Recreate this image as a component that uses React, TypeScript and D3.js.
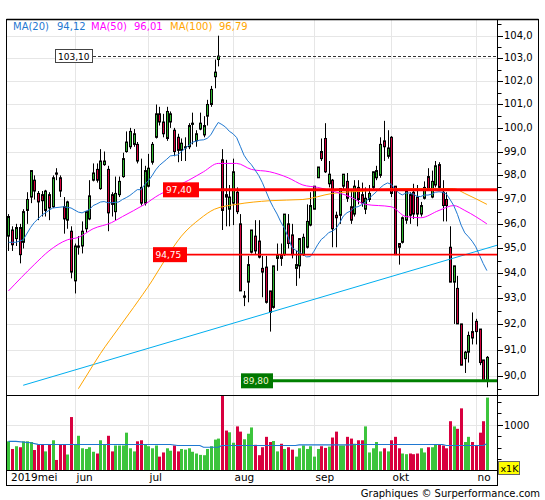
import React from "react";
import * as d3 from "d3";

// ---- data ----
const opens = [
  95.5, 95.75, 95.4, 95.85, 95.25, 96.55, 97.1, 97.8, 97.25, 97.2,
  96.55, 97.2, 96.7, 98.1, 97.9, 96.7, 96.15, 95.7, 93.7, 95.05,
  95.1, 95.8, 96.2, 97.8, 98.25, 97.45, 98.45, 98.25, 97.2, 96.5,
  97.2, 97.95, 99.0, 99.2, 99.3, 99.3, 97.5, 96.85, 97.55, 98.55,
  99.6, 100.6, 100.25, 99.55, 100.25, 99.9, 99.6, 99.05, 99.15, 99.2,
  100.15, 99.45, 99.95, 99.7, 100.5, 101.0, 102.2, 102.95, 98.65, 97.2,
  96.6, 96.85, 97.3, 96.0, 93.05, 93.65, 94.85, 95.5, 95.3, 94.2,
  94.25, 93.3, 92.65, 94.6, 94.75, 94.75, 96.0, 95.55, 94.2, 94.3,
  94.75, 95.05, 95.95, 96.6, 97.9, 99.0, 99.55, 97.65, 97.8, 96.35,
  96.35, 97.55, 97.75, 96.7, 96.4, 97.5, 97.2, 96.6, 97.0, 97.5,
  97.9, 98.0, 99.45, 98.8, 99.6, 97.55, 95.2, 95.25, 96.15, 97.2,
  97.3, 97.1, 96.4, 97.05, 97.95, 97.1, 97.6, 98.45, 97.3, 97.0,
  95.05, 93.65, 93.4, 92.0, 90.65, 90.9, 91.7, 92.1, 91.8, 90.6,
  89.8,
];
const highs = [
  96.4, 95.9, 96.0, 96.0, 96.6, 97.3, 98.2, 98.0, 97.35, 97.35,
  97.4, 97.3, 98.0, 98.3, 98.0, 97.1, 96.95, 95.9, 95.2, 95.5,
  96.1, 96.5, 97.8, 98.5, 98.5, 99.1, 99.0, 98.4, 97.3, 97.95,
  97.95, 98.95, 99.85, 100.0, 99.95, 99.4, 98.7, 98.4, 98.9, 99.4,
  101.0, 100.9, 100.6, 100.9, 100.7, 100.0, 99.75, 99.55, 99.6, 100.2,
  100.65, 99.9, 100.65, 100.5, 101.2, 101.8, 102.95, 104.0, 99.1, 98.65,
  97.6, 98.7, 97.5, 96.4, 93.3, 94.7, 95.75, 96.15, 96.15, 94.7,
  94.7, 93.3, 94.3, 95.2, 95.2, 96.4, 96.4, 96.0, 94.9, 95.4,
  95.6, 96.8, 97.3, 97.55, 98.35, 99.55, 100.2, 98.6, 97.85, 96.5,
  97.45, 98.05, 98.1, 97.4, 97.8, 97.8, 97.7, 97.5, 97.6, 98.15,
  98.4, 99.6, 100.3, 99.9, 99.65, 97.55, 95.2, 96.3, 97.4, 97.3,
  97.65, 97.6, 96.9, 97.75, 98.3, 98.2, 98.6, 98.55, 97.8, 97.3,
  95.9, 94.3, 93.9, 92.0, 90.95, 91.7, 92.45, 92.2, 91.8, 90.6,
  90.75,
];
const lows = [
  94.9, 94.9, 95.1, 94.4, 95.0, 96.0, 96.85, 97.0, 96.15, 96.3,
  96.3, 96.15, 96.65, 97.8, 97.1, 95.6, 95.8, 93.8, 93.2, 94.75,
  94.8, 95.65, 96.15, 97.75, 97.7, 97.4, 98.4, 95.7, 96.3, 96.15,
  97.1, 97.9, 98.95, 99.1, 99.2, 98.5, 96.75, 96.75, 97.5, 98.45,
  99.55, 100.1, 99.6, 99.45, 100.0, 98.8, 98.55, 98.6, 98.6, 99.1,
  99.3, 99.2, 99.9, 99.6, 100.1, 100.9, 101.7, 102.65, 95.75, 95.9,
  95.9, 95.95, 96.4, 93.3, 92.7, 92.85, 94.8, 94.75, 94.6, 93.05,
  92.8, 91.7, 92.6, 94.1, 94.3, 94.7, 95.0, 94.6, 93.5, 93.8,
  94.7, 95.0, 95.9, 96.6, 97.9, 98.6, 98.1, 97.5, 95.05, 95.05,
  96.0, 97.4, 96.9, 96.0, 96.3, 96.8, 96.7, 96.4, 96.9, 97.4,
  97.8, 97.9, 98.6, 98.7, 97.1, 94.75, 94.35, 95.2, 96.0, 96.0,
  96.2, 95.9, 96.3, 97.0, 97.4, 97.05, 97.5, 97.4, 96.1, 96.1,
  93.65, 92.0, 92.0, 90.4, 90.1, 90.5, 91.2, 91.2, 90.4, 89.8,
  89.55,
];
const closes = [
  96.3, 95.15, 95.85, 94.75, 96.5, 97.0, 98.2, 97.35, 96.9, 96.95,
  97.35, 96.65, 97.9, 98.05, 97.35, 96.2, 96.9, 94.05, 95.1, 95.1,
  95.7, 96.5, 97.15, 98.1, 97.8, 98.6, 98.6, 96.45, 96.8, 97.25,
  97.75, 98.7, 99.4, 99.85, 99.75, 98.6, 96.85, 98.2, 98.3, 99.3,
  100.6, 100.25, 99.75, 100.7, 100.6, 99.0, 99.05, 99.35, 99.2, 100.1,
  100.2, 99.75, 100.2, 100.1, 101.0, 101.65, 102.4, 103.1, 96.55, 97.1,
  97.1, 98.15, 96.5, 93.3, 93.1, 94.35, 95.75, 94.9, 94.65, 94.05,
  92.85, 92.45, 94.3, 94.75, 94.6, 96.4, 95.2, 94.75, 94.35, 95.4,
  95.45, 96.1, 96.75, 97.55, 98.35, 98.7, 98.15, 98.05, 95.8, 96.25,
  97.45, 98.05, 97.05, 96.15, 97.55, 97.0, 96.85, 97.05, 97.25, 98.15,
  98.2, 99.3, 99.2, 99.15, 97.25, 94.75, 95.05, 96.25, 97.35, 96.35,
  96.4, 96.4, 96.75, 97.5, 97.45, 97.75, 98.4, 97.5, 96.75, 96.75,
  93.65, 94.3, 92.0, 90.4, 90.9, 91.55, 91.45, 91.7, 90.5, 89.8,
  90.7,
];
// volume in thousands
const volumes = [
  637, 470, 530, 508, 637, 637, 622, 447, 561, 561,
  417, 561, 660, 230, 561, 561, 349, 1167, 561, 758,
  485, 470, 508, 409, 371, 660, 561, 758, 417, 546,
  546, 546, 826, 485, 417, 637, 660, 568, 530, 485,
  546, 303, 394, 485, 432, 546, 417, 470, 455, 485,
  409, 371, 341, 334, 470, 530, 675, 697, 1645, 872,
  834, 606, 963, 849, 682, 803, 940, 561, 334, 508,
  735, 622, 644, 417, 584, 470, 508, 455, 303, 485,
  546, 470, 530, 303, 470, 530, 493, 523, 720, 849,
  546, 546, 735, 697, 584, 660, 660, 963, 394, 485,
  622, 417, 485, 417, 660, 735, 485, 371, 356, 371,
  356, 371, 485, 394, 508, 508, 568, 568, 546, 485,
  1076, 963, 910, 1357, 622, 735, 622, 546, 826, 1076,
  1592,
];
// MA20 before a full 20-day window is available
const ma20EarlyIdx = [0, 2, 4, 6, 7, 9, 10, 12, 15, 17];
const ma20EarlyVal = [95.25, 95.25, 95.35, 95.85, 96.05, 96.35, 96.45, 96.65, 96.7, 96.65];
// MA50 and MA100
const ma50Idx = [0, 7, 11, 16, 19, 23, 28, 31, 37, 41, 43, 49, 53, 57, 62, 66, 71, 76, 80, 84, 88, 93, 97, 104, 108, 112, 117, 121, 124, 130];
const ma50Val = [93.3, 94.35, 94.9, 95.35, 95.45, 95.8, 96.05, 96.3, 96.8, 97.2, 97.35, 97.8, 98.15, 98.5, 98.5, 98.25, 98.15, 97.9, 97.6, 97.5, 97.35, 97.1, 96.8, 96.7, 96.3, 96.25, 96.55, 96.75, 96.55, 96.0];
const ma100Idx = [19, 21, 25, 30, 34, 39, 43, 47, 52, 56, 62, 71, 80, 88, 97, 106, 115, 121, 124, 130];
const ma100Val = [89.5, 89.95, 90.85, 91.85, 92.65, 93.7, 94.65, 95.5, 96.2, 96.6, 96.8, 96.95, 97.0, 97.25, 97.35, 97.45, 97.45, 97.45, 97.25, 96.8];
const volMaIdx = [0, 2, 6, 8, 44, 46, 52, 53, 57, 58, 78, 79, 93, 94, 118, 119, 129, 130];
const volMaVal = [637, 637, 606, 570, 568, 546, 546, 508, 508, 546, 546, 561, 561, 568, 568, 546, 546, 584];
const trendIdx = [4, 132.75];
const trendVal = [89.63, 95.13];
const levels = [103.1, 97.4, 94.75, 89.8];
const legendNames = ["MA(20)", "MA(50)", "MA(100)"];
const legendValues = ["94,12", "96,01", "96,79"];
const monthLabels = ["2019mei", "jun", "jul", "aug", "sep", "okt", "no"];
const monthStartIdx = [18, 38, 61, 83, 104, 127];
const priceTicks = [90, 91, 92, 93, 94, 95, 96, 97, 98, 99, 100, 101, 102, 103, 104];
const volTicks = [250, 500, 750, 1000, 1250, 1500];
const volLabelTicks = [1000];

const C_GREEN = "#2fb52f";
const C_RED = "#d2003c";
const V_GREEN = "#3cc43c";
const V_RED = "#d8003f";
const C_MA20 = "#1f78d1";
const C_MA50 = "#ff00ff";
const C_MA100 = "#ffa500";
const C_TREND = "#00aeef";
const GRID = "#e6e6e6";

const fmt = (v: number, d: number) => v.toFixed(d).replace(".", ",");

export default function App() {
  const L = 7, R = 497, T = 19, B = 395, VB = 470.5, XB = 485.5;
  const x = d3.scaleLinear().domain([-0.4, 132.75]).range([L, R]);
  const y = d3.scaleLog().domain([89.26, 104.74]).range([B, T]);
  const yv = d3.scaleLinear().domain([0, 1000]).range([VB, 424.7]);
  const px = (i: number) => Math.round(x(i)) + 0.5;

  // MA20: early read values, then rolling mean of closes
  const ma20: [number, number][] = ma20EarlyIdx.map((d, k) => [d, ma20EarlyVal[k]]);
  for (let i = 19; i < closes.length; i++) {
    ma20.push([i, d3.mean(closes.slice(i - 19, i + 1)) as number]);
  }
  const lineP = d3.line<[number, number]>().x((d) => x(d[0])).y((d) => y(d[1]));
  const lineSmooth = d3.line<[number, number]>().x((d) => x(d[0])).y((d) => y(d[1])).curve(d3.curveMonotoneX);
  const ma50 = ma50Idx.map((d, k) => [d, ma50Val[k]] as [number, number]);
  const ma100 = ma100Idx.map((d, k) => [d, ma100Val[k]] as [number, number]);
  const trend = trendIdx.map((d, k) => [d, trendVal[k]] as [number, number]);
  const volMa = d3.line<[number, number]>().x((d) => x(d[0])).y((d) => yv(d[1]))(
    volMaIdx.map((d, k) => [d, volMaVal[k]] as [number, number])
  );

  const minor: number[] = [];
  for (let v = 89.5; v <= 104.5; v += 1) minor.push(v);

  const font = "DejaVu Sans, Verdana, sans-serif";
  const legendX = [13, 91, 170];
  const legendVX = [57, 134, 219];
  const legendC = [C_MA20, C_MA50, C_MA100];

  return (
    <svg
      width={545}
      height={500}
      style={{ position: "absolute", left: 0, top: 0, display: "block", background: "#fff" }}
      fontFamily={font}
    >
      <defs>
        <clipPath id="plot">
          <rect x={L} y={T} width={R - L} height={B - T} />
        </clipPath>
        <clipPath id="vol">
          <rect x={L} y={B + 1} width={R - L} height={VB - B - 1} />
        </clipPath>
      </defs>
      <rect x={0} y={0} width={545} height={500} fill="#fff" />

      {/* grid */}
      {priceTicks.map((t) => (
        <line key={"g" + t} x1={L} x2={R} y1={Math.round(y(t)) + 0.5} y2={Math.round(y(t)) + 0.5} stroke={GRID} />
      ))}
      {monthStartIdx.map((m) => (
        <line key={"vg" + m} x1={px(m)} x2={px(m)} y1={T} y2={VB} stroke={GRID} />
      ))}
      {volLabelTicks.map((t) => (
        <line key={"vgl" + t} x1={L} x2={R} y1={Math.round(yv(t)) + 0.5} y2={Math.round(yv(t)) + 0.5} stroke={GRID} />
      ))}

      {/* candles */}
      <g clipPath="url(#plot)">
        {closes.map((c, i) => {
          const o = opens[i];
          const cx = px(i);
          const up = c > o;
          const yTop = y(Math.max(o, c));
          const yBot = y(Math.min(o, c));
          const bh = Math.max(1, yBot - yTop);
          return (
            <g key={"c" + i}>
              <line x1={cx} x2={cx} y1={y(highs[i])} y2={y(lows[i])} stroke="#000" strokeWidth={1} />
              <rect x={cx - 1} y={yTop} width={2} height={bh} fill={up ? C_GREEN : C_RED} stroke="#000" strokeWidth={1} />
            </g>
          );
        })}
        {/* moving averages & trend */}
        <path d={lineP(trend) || ""} fill="none" stroke={C_TREND} strokeWidth={1} />
        <path d={lineSmooth(ma100) || ""} fill="none" stroke={C_MA100} strokeWidth={1} />
        <path d={lineSmooth(ma50) || ""} fill="none" stroke={C_MA50} strokeWidth={1} />
        <path d={lineP(ma20) || ""} fill="none" stroke={C_MA20} strokeWidth={1} />

        {/* levels */}
        <line x1={93} x2={R} y1={Math.round(y(levels[0])) + 0.5} y2={Math.round(y(levels[0])) + 0.5} stroke="#333" strokeDasharray="3,2" />
        <line x1={163} x2={R} y1={y(levels[1])} y2={y(levels[1])} stroke="#ff0000" strokeWidth={3} />
        <line x1={153} x2={R} y1={y(levels[2])} y2={y(levels[2])} stroke="#ff0000" strokeWidth={1.6} />
        <line x1={241} x2={R} y1={y(levels[3])} y2={y(levels[3])} stroke="#008000" strokeWidth={3} />
      </g>

      {/* level labels */}
      <g fontSize={9}>
        <rect x={55.5} y={Math.round(y(levels[0])) - 6.5} width={37} height={13} fill="#fff" stroke="#444" />
        <text x={58} y={Math.round(y(levels[0])) + 4} fill="#000">{fmt(levels[0], 2)}</text>
        <rect x={163} y={y(levels[1]) - 7.5} width={36} height={15} fill="#ff0000" />
        <text x={166} y={y(levels[1]) + 3.5} fill="#fff">{fmt(levels[1], 2)}</text>
        <rect x={153} y={y(levels[2]) - 7.5} width={34} height={15} fill="#ff0000" />
        <text x={155.5} y={y(levels[2]) + 3.5} fill="#fff">{fmt(levels[2], 2)}</text>
        <rect x={241} y={y(levels[3]) - 7.5} width={32} height={15} fill="#007800" />
        <text x={243} y={y(levels[3]) + 3.5} fill="#f4f4d0">{fmt(levels[3], 2)}</text>
      </g>

      {/* legend */}
      <g fontSize={10}>
        {legendNames.map((n, k) => (
          <g key={n}>
            <text x={legendX[k]} y={30} fill={legendC[k]}>{n}</text>
            <text x={legendVX[k]} y={30} fill={legendC[k]}>{legendValues[k]}</text>
          </g>
        ))}
      </g>

      {/* volume */}
      <g clipPath="url(#vol)">
        {volumes.map((v, i) => {
          const up = closes[i] > opens[i];
          const top = yv(v);
          return (
            <rect key={"v" + i} x={Math.round(x(i)) - 1} y={top} width={3} height={VB - top} fill={up ? V_GREEN : V_RED} />
          );
        })}
        <path d={volMa || ""} fill="none" stroke={C_MA20} strokeWidth={1.2} />
      </g>

      {/* frame */}
      <g stroke="#000" fill="none">
        <line x1={6.5} x2={538.5} y1={19.5} y2={19.5} strokeWidth={1.5} />
        <line x1={6.5} x2={6.5} y1={19} y2={486} />
        <line x1={538.5} x2={538.5} y1={19} y2={395.5} />
        <line x1={6.5} x2={538.5} y1={395.5} y2={395.5} />
        <line x1={497.5} x2={497.5} y1={19} y2={486} />
        <line x1={6.5} x2={497.5} y1={VB} y2={VB} />
        <line x1={6.5} x2={497.5} y1={XB} y2={XB} />
      </g>

      {/* price axis */}
      <g fontSize={10} fill="#000">
        {priceTicks.map((t) => {
          const yy = Math.round(y(t)) + 0.5;
          return (
            <g key={"t" + t}>
              <line x1={497.5} x2={503} y1={yy} y2={yy} stroke="#000" />
              <text x={504} y={yy + 2.2} >{fmt(t, 1)}</text>
            </g>
          );
        })}
        {minor.map((t) => {
          const yy = Math.round(y(t)) + 0.5;
          return <line key={"m" + t} x1={497.5} x2={501.5} y1={yy} y2={yy} stroke="#000" />;
        })}
      </g>

      {/* volume axis */}
      <g fontSize={10} fill="#000">
        {volTicks.map((t) => {
          const yy = Math.round(yv(t)) + 0.5;
          const major = volLabelTicks.includes(t);
          return (
            <g key={"vt" + t}>
              <line x1={497.5} x2={major ? 503 : 501.5} y1={yy} y2={yy} stroke="#000" />
              {major && <text x={504} y={yy + 3}>{t}</text>}
            </g>
          );
        })}
        <rect x={498.5} y={461.5} width={21} height={13} fill="#ffff00" stroke="#666" />
        <text x={500.5} y={471.5} fontSize={9.5}>x1K</text>
      </g>

      {/* month labels */}
      <g fontSize={10.5} fill="#000">
        <text x={11} y={480.5}>{monthLabels[0]}</text>
        {monthStartIdx.map((m, k) => (
          <text key={"ml" + m} x={px(m) + 1} y={480.5}>{monthLabels[k + 1]}</text>
        ))}
      </g>

      <text x={540} y={497} fontSize={10} textAnchor="end" fill="#000">Graphiques © Surperformance.com</text>
    </svg>
  );
}
